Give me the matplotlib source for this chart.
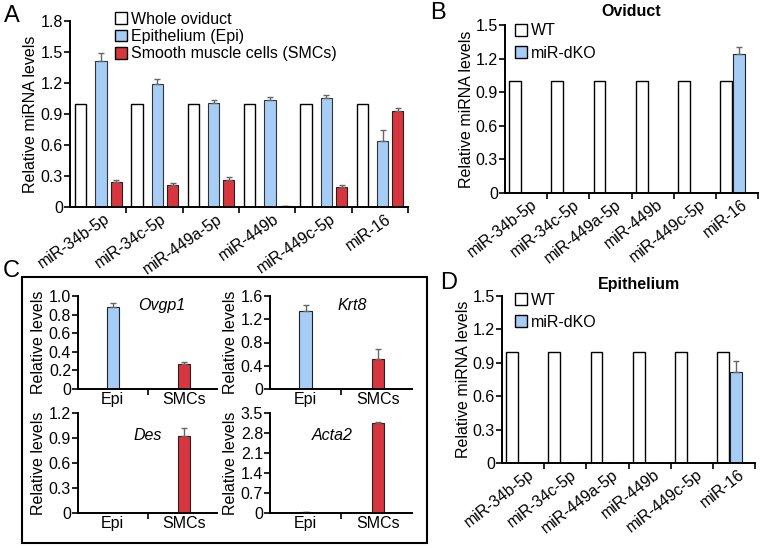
import numpy as np
import matplotlib.pyplot as plt

plt.rcParams['font.family'] = ['Liberation Sans', 'DejaVu Sans']

W, H = 762, 548
FS = 11.5

# data
mirnas = ['miR-34b-5p', 'miR-34c-5p', 'miR-449a-5p', 'miR-449b', 'miR-449c-5p', 'miR-16']
a_whole = [1.0, 1.0, 1.0, 1.0, 1.0, 1.0]
a_epi = [1.41, 1.19, 1.01, 1.04, 1.05, 0.64]
a_epi_err = [0.08, 0.05, 0.03, 0.02, 0.03, 0.11]
a_smc = [0.24, 0.21, 0.26, 0.005, 0.19, 0.93]
a_smc_err = [0.02, 0.02, 0.03, 0.0, 0.02, 0.03]

b_wt = [1.0, 1.0, 1.0, 1.0, 1.0, 1.0]
b_ko = [0.0, 0.003, 0.0, 0.0, 0.0, 1.24]
b_ko_err = [0.0, 0.0, 0.0, 0.0, 0.0, 0.06]

d_wt = [1.0, 1.0, 1.0, 1.0, 1.0, 1.0]
d_ko = [0.0, 0.0, 0.0, 0.0, 0.0, 0.82]
d_ko_err = [0.0, 0.0, 0.0, 0.0, 0.0, 0.10]

c_groups = ['Epi', 'SMCs']
c_genes = ['Ovgp1', 'Krt8', 'Des', 'Acta2']
c_vals = {'Ovgp1': [0.88, 0.27], 'Krt8': [1.35, 0.52], 'Des': [0.005, 0.92], 'Acta2': [0.02, 3.15]}
c_errs = {'Ovgp1': [0.04, 0.02], 'Krt8': [0.09, 0.17], 'Des': [0.0, 0.10], 'Acta2': [0.0, 0.05]}
c_ymax = {'Ovgp1': 1.0, 'Krt8': 1.6, 'Des': 1.2, 'Acta2': 3.5}
c_ystep = {'Ovgp1': 0.2, 'Krt8': 0.4, 'Des': 0.3, 'Acta2': 0.7}

BLUE = '#a6cdf5'
RED = '#d8363f'
ERRC = '#666666'

fig = plt.figure(figsize=(W / 100, H / 100), dpi=100)


def add_ax(x0, x1, ytop, ybot):
    return fig.add_axes([x0 / W, 1 - ybot / H, (x1 - x0) / W, (ybot - ytop) / H])


def fmt(v):
    if abs(v) < 1e-9:
        return '0'
    return ('%.1f' % v)


def style(ax, ymax, ystep):
    for s in ['top', 'right']:
        ax.spines[s].set_visible(False)
    for s in ['left', 'bottom']:
        ax.spines[s].set_linewidth(1.4)
    ticks = np.round(np.arange(0, ymax + 1e-6, ystep), 2)
    ax.set_ylim(0, ymax)
    ax.set_yticks(ticks)
    ax.set_yticklabels([fmt(t) for t in ticks], fontsize=FS)
    ax.tick_params(axis='y', direction='out', length=4, width=1.2, pad=1)


def err_kw():
    return dict(ecolor=ERRC, capsize=2.5, error_kw=dict(elinewidth=1, capthick=1))


def mirna_xaxis(ax, rot):
    n = len(mirnas)
    ax.set_xlim(0, n)
    ax.set_xticks(np.arange(1, n + 1))
    ax.set_xticklabels([])
    ax.tick_params(axis='x', which='major', direction='out', length=4, width=1.2)
    ax.set_xticks(np.arange(n) + 0.6, minor=True)
    ax.set_xticklabels(mirnas, minor=True, rotation=rot, ha='right', va='top',
                       rotation_mode='anchor', fontsize=FS)
    ax.tick_params(axis='x', which='minor', length=0, pad=3)


# ---- A
axA = add_ax(70, 408, 21, 207)
x = np.arange(len(mirnas))
bw = 0.2
axA.bar(x + 0.19, a_whole, bw, color='white', edgecolor='black', linewidth=1)
axA.bar(x + 0.55, a_epi, bw, color=BLUE, edgecolor='#333333', linewidth=0.8,
        yerr=[np.zeros(6), a_epi_err], **err_kw())
axA.bar(x + 0.82, a_smc, bw, color=RED, edgecolor='#222222', linewidth=0.8,
        yerr=[np.zeros(6), a_smc_err], **err_kw())
style(axA, 1.8, 0.3)
mirna_xaxis(axA, 35)
axA.set_ylabel('Relative miRNA levels', fontsize=FS, labelpad=2)
hA = [plt.Rectangle((0, 0), 1, 1, facecolor=c, edgecolor='black', linewidth=1)
      for c in ['white', BLUE, RED]]
axA.legend(hA, ['Whole oviduct', 'Epithelium (Epi)', 'Smooth muscle cells (SMCs)'],
           loc='upper left', bbox_to_anchor=(0.133, 1.05), frameon=False, fontsize=FS,
           handlelength=0.75, handleheight=0.75, handletextpad=0.25, labelspacing=0.15,
           borderaxespad=0, borderpad=0)


# ---- B and D
def ko_panel(ax, wt, ko, koerr, title, tx, ty, lx, ly):
    x = np.arange(len(mirnas))
    bw = 0.28
    ax.bar(x + 0.24, wt, bw, color='white', edgecolor='black', linewidth=1)
    ax.bar(x + 0.54, ko, bw, color=BLUE, edgecolor='#222222', linewidth=0.8,
           yerr=[np.zeros(6), koerr], **err_kw())
    style(ax, 1.5, 0.3)
    mirna_xaxis(ax, 38)
    ax.set_ylabel('Relative miRNA levels', fontsize=FS, labelpad=1)
    ax.text(tx, ty, title, transform=ax.transAxes, fontsize=FS, fontweight='bold',
            ha='center', va='center')
    h = [plt.Rectangle((0, 0), 1, 1, facecolor=c, edgecolor='black', linewidth=1)
         for c in ['white', BLUE]]
    ax.legend(h, ['WT', 'miR-dKO'], loc='upper left', bbox_to_anchor=(lx, ly),
              frameon=False, fontsize=FS, handlelength=0.75, handleheight=0.75,
              handletextpad=0.25, labelspacing=0.45, borderaxespad=0, borderpad=0)


axB = add_ax(505, 758, 25, 193)
ko_panel(axB, b_wt, b_ko, b_ko_err, 'Oviduct', 0.5, 1 + 14 / 168, 0.04, 1.01)
axD = add_ax(502, 755, 296, 463)
ko_panel(axD, d_wt, d_ko, d_ko_err, 'Epithelium', 0.54, 1 + 11 / 167, 0.05, 1.02)

# ---- C
boxes = {'Ovgp1': (78, 217, 296, 389), 'Krt8': (270, 412, 296, 389),
         'Des': (78, 217, 413, 513), 'Acta2': (270, 412, 413, 513)}
gene_pos = {'Ovgp1': (0.60, 0.90), 'Krt8': (0.58, 0.90),
            'Des': (0.50, 0.78), 'Acta2': (0.44, 0.78)}
for g in c_genes:
    ax = add_ax(*boxes[g])
    vals = c_vals[g]
    errs = c_errs[g]
    xc = np.array([0.25, 0.76])
    ax.bar(xc[0], vals[0], 0.085, color=BLUE, edgecolor='#222222', linewidth=0.8,
           yerr=[[0], [errs[0]]], **err_kw())
    ax.bar(xc[1], vals[1], 0.085, color=RED, edgecolor='#222222', linewidth=0.8,
           yerr=[[0], [errs[1]]], **err_kw())
    style(ax, c_ymax[g], c_ystep[g])
    ax.set_xlim(0, 1)
    ax.set_xticks([0.5])
    ax.set_xticklabels([])
    ax.tick_params(axis='x', which='major', direction='out', length=4, width=1.2)
    ax.set_xticks(xc, minor=True)
    ax.set_xticklabels(c_groups, minor=True, fontsize=FS)
    ax.tick_params(axis='x', which='minor', length=0, pad=2)
    ax.set_ylabel('Relative levels', fontsize=FS, labelpad=2)
    gx, gy = gene_pos[g]
    ax.text(gx, gy, g, transform=ax.transAxes, fontsize=FS, style='italic',
            ha='center', va='center')

fig.patches.append(plt.Rectangle((22 / W, 1 - 543 / H), (427 - 22) / W, (543 - 277) / H,
                                 transform=fig.transFigure, fill=False,
                                 edgecolor='black', linewidth=1.5))

# panel letters
for lab, px, py in [('A', 4, 16), ('B', 430, 13), ('C', 3, 271), ('D', 440, 283)]:
    fig.text(px / W, 1 - py / H, lab, fontsize=17, ha='left', va='center')

fig.savefig('out.png', dpi=100)
